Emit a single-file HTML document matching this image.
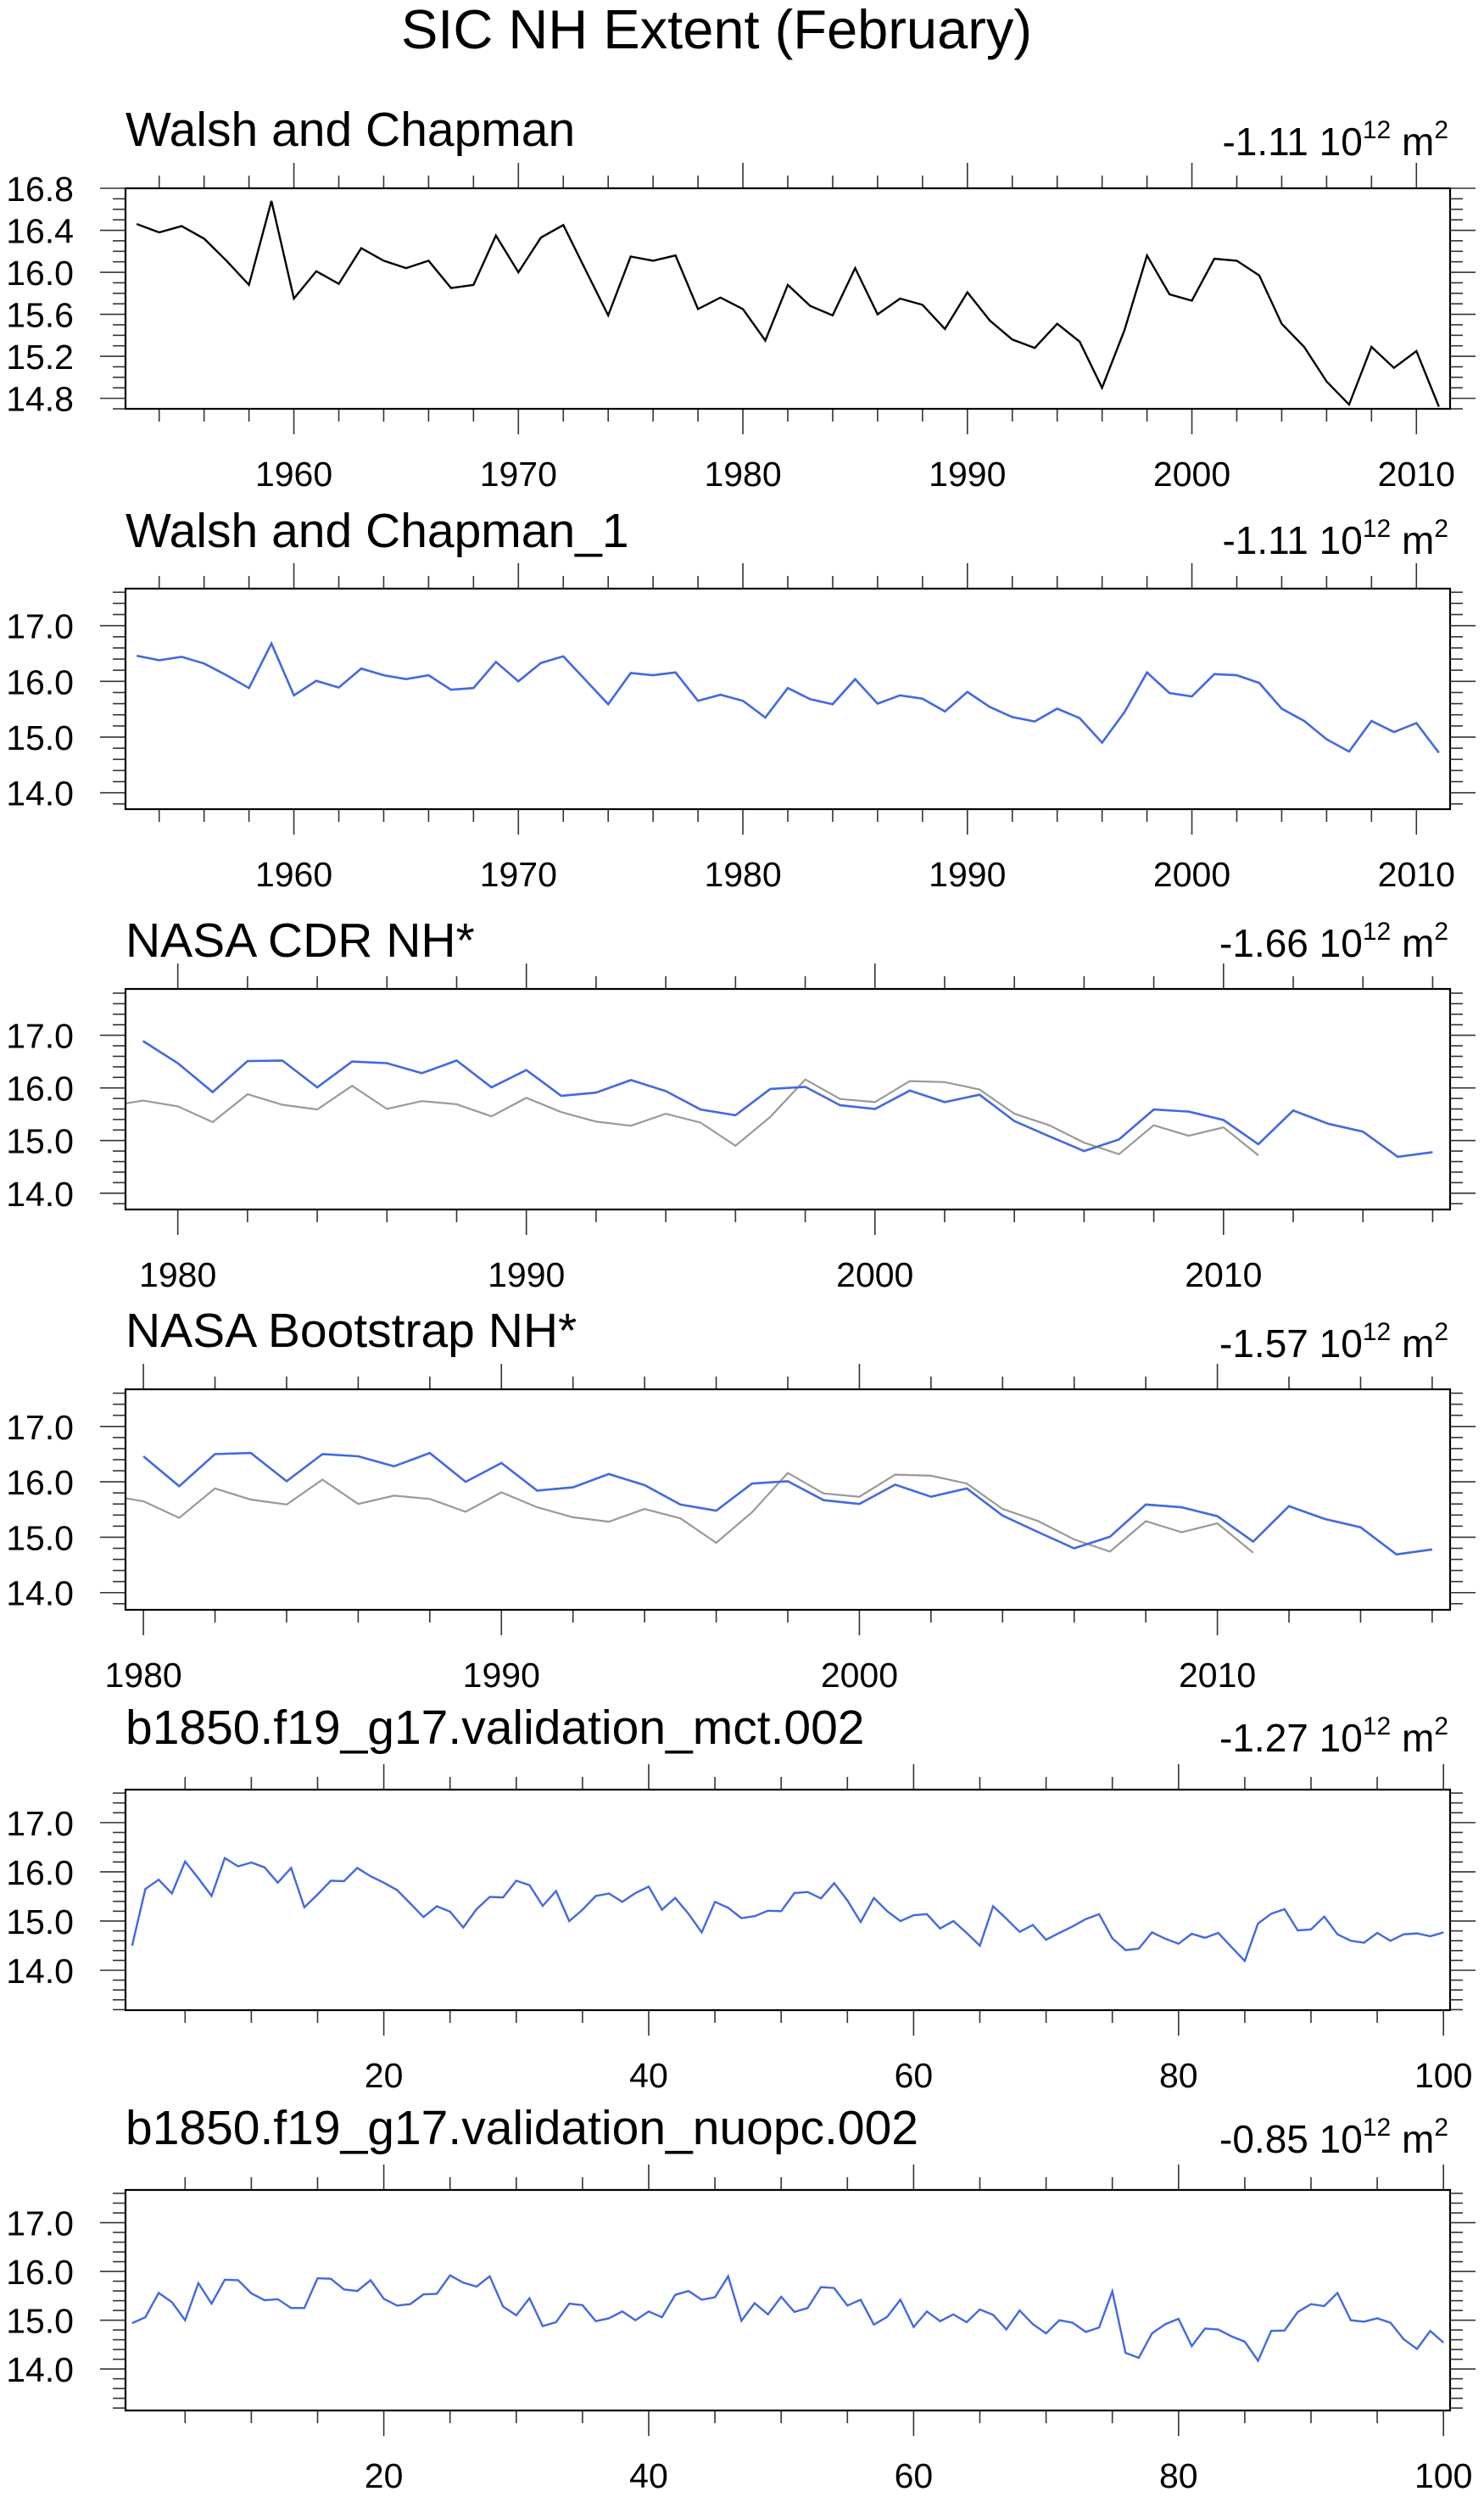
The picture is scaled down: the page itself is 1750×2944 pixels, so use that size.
<!DOCTYPE html>
<html><head><meta charset="utf-8"><style>
html,body{margin:0;padding:0;background:#fff;}
svg{display:block;font-family:"Liberation Sans",Arial,sans-serif;}
</style></head><body>
<svg id="chart" width="1750" height="2944" viewBox="0 0 1750 2944" xmlns="http://www.w3.org/2000/svg">
<text x="845" y="57" font-size="65" text-anchor="middle">SIC NH Extent (February)</text>
</svg>
<script>
const walshYears = [];
for (let y = 1953; y <= 2011; y++) walshYears.push(y);
const walshValues = [16.46,16.38,16.44,16.32,16.11,15.88,16.68,15.75,16.01,15.89,16.23,16.11,16.04,16.11,15.85,15.88,16.35,16.00,16.33,16.45,16.02,15.59,16.15,16.11,16.16,15.65,15.76,15.65,15.35,15.88,15.68,15.59,16.04,15.60,15.75,15.69,15.46,15.81,15.54,15.36,15.28,15.51,15.34,14.90,15.45,16.16,15.79,15.73,16.13,16.11,15.97,15.51,15.29,14.96,14.74,15.29,15.09,15.25,14.72];
const cdrYears = [];
for (let y = 1979; y <= 2016; y++) cdrYears.push(y);
const cdrValues = [16.89,16.47,15.92,16.51,16.52,16.01,16.50,16.47,16.28,16.52,16.01,16.34,15.85,15.91,16.15,15.94,15.59,15.48,15.98,16.02,15.67,15.60,15.95,15.73,15.87,15.37,15.08,14.80,15.02,15.59,15.55,15.39,14.93,15.57,15.32,15.17,14.69,14.78];
const bootYears = [];
for (let y = 1980; y <= 2016; y++) bootYears.push(y);
const bootValues = [16.46,15.92,16.50,16.52,16.01,16.50,16.46,16.28,16.52,16.00,16.34,15.84,15.90,16.14,15.94,15.59,15.48,15.97,16.01,15.67,15.60,15.95,15.73,15.88,15.39,15.09,14.80,15.01,15.59,15.54,15.38,14.92,15.56,15.33,15.18,14.69,14.78];
const mctValues = [14.50,15.65,15.84,15.56,16.21,15.87,15.51,16.28,16.11,16.19,16.09,15.78,16.08,15.28,15.54,15.82,15.81,16.08,15.91,15.78,15.63,15.36,15.08,15.30,15.19,14.87,15.24,15.49,15.48,15.82,15.73,15.31,15.61,15.00,15.23,15.51,15.56,15.39,15.57,15.70,15.23,15.47,15.15,14.77,15.39,15.27,15.06,15.10,15.21,15.20,15.57,15.59,15.46,15.77,15.42,14.98,15.47,15.20,15.00,15.12,15.14,14.85,15.00,14.76,14.50,15.30,15.05,14.78,14.92,14.62,14.76,14.89,15.04,15.14,14.65,14.41,14.44,14.77,14.64,14.54,14.74,14.66,14.76,14.47,14.19,14.95,15.15,15.24,14.81,14.83,15.09,14.73,14.60,14.56,14.76,14.60,14.73,14.75,14.69,14.77];
const nuopcValues = [14.94,15.06,15.56,15.37,15.00,15.76,15.34,15.83,15.82,15.55,15.41,15.43,15.25,15.25,15.86,15.85,15.63,15.60,15.82,15.44,15.30,15.33,15.53,15.54,15.92,15.77,15.69,15.90,15.28,15.10,15.45,14.88,14.96,15.34,15.31,14.98,15.04,15.18,15.00,15.18,15.06,15.52,15.60,15.42,15.47,15.90,14.99,15.35,15.12,15.48,15.17,15.25,15.68,15.66,15.30,15.42,14.91,15.07,15.42,14.86,15.18,14.98,15.12,14.96,15.22,15.11,14.81,15.20,14.92,14.73,15.00,14.95,14.76,14.85,15.59,14.33,14.23,14.73,14.92,15.03,14.47,14.83,14.81,14.67,14.56,14.17,14.78,14.79,15.17,15.33,15.29,15.56,15.00,14.97,15.04,14.95,14.61,14.41,14.78,14.54];
const runIndex = [];
for (let i = 1; i <= 100; i++) runIndex.push(i);
const yearTickLabels = [1960,1970,1980,1990,2000,2010];
const indexTickLabels = [20,40,60,80,100];
const panelTitles = ["Walsh and Chapman","Walsh and Chapman_1","NASA CDR NH*","NASA Bootstrap NH*","b1850.f19_g17.validation_mct.002","b1850.f19_g17.validation_nuopc.002"];
const trendValues = ["-1.11","-1.11","-1.66","-1.57","-1.27","-0.85"];

const NS = "http://www.w3.org/2000/svg";
const svg = document.getElementById("chart");
const L = 148, R = 1710, H = 260;

function mk(tag, attrs, parent) {
  const e = document.createElementNS(NS, tag);
  for (const k in attrs) e.setAttribute(k, attrs[k]);
  parent.appendChild(e);
  return e;
}

const panels = [
  {top:222, ymin:14.70, ymax:16.80, xmin:1952.5, xmax:2011.5, yMajor:0.4, yMinor:0.1, yStart:14.8, yDec:1, xMajor:10, xMinor:2, xLabels:yearTickLabels, tb:172, rb:183,
   series:[{x:walshYears, y:walshValues, c:"#000", w:2.4, n:"walsh-chapman-line"}]},
  {top:694, ymin:13.706, ymax:17.665, xmin:1952.5, xmax:2011.5, yMajor:1, yMinor:0.2, yStart:14, yDec:1, xMajor:10, xMinor:2, xLabels:yearTickLabels, tb:645, rb:653,
   series:[{x:walshYears, y:walshValues, c:"#4169e1", w:2.6, n:"walsh-chapman-1-line"}]},
  {top:1166, ymin:13.69, ymax:17.88, xmin:1978.5, xmax:2016.5, yMajor:1, yMinor:0.2, yStart:14, yDec:1, xMajor:10, xMinor:2, xLabels:[1980,1990,2000,2010], tb:1128, rb:1128,
   series:[{x:walshYears, y:walshValues, c:"#999", w:2.2, n:"walsh-reference-line"},{x:cdrYears, y:cdrValues, c:"#4169e1", w:2.6, n:"nasa-cdr-line"}]},
  {top:1638, ymin:13.69, ymax:17.67, xmin:1979.5, xmax:2016.5, yMajor:1, yMinor:0.2, yStart:14, yDec:1, xMajor:10, xMinor:2, xLabels:[1980,1990,2000,2010], tb:1588, rb:1600,
   series:[{x:walshYears, y:walshValues, c:"#999", w:2.2, n:"walsh-reference-line"},{x:bootYears, y:bootValues, c:"#4169e1", w:2.6, n:"nasa-bootstrap-line"}]},
  {top:2110, ymin:13.19, ymax:17.67, xmin:0.5, xmax:100.5, yMajor:1, yMinor:0.2, yStart:14, yDec:1, xMajor:20, xMinor:5, xLabels:indexTickLabels, tb:2056, rb:2065,
   series:[{x:runIndex, y:mctValues, c:"#4169e1", w:2.4, n:"mct-run-line"}]},
  {top:2582, ymin:13.15, ymax:17.67, xmin:0.5, xmax:100.5, yMajor:1, yMinor:0.2, yStart:14, yDec:1, xMajor:20, xMinor:5, xLabels:indexTickLabels, tb:2528, rb:2538,
   series:[{x:runIndex, y:nuopcValues, c:"#4169e1", w:2.4, n:"nuopc-run-line"}]}
];

panels.forEach((p, pi) => {
  const g = mk("g", {}, svg);
  
  
  const B = p.top + H;
  const sx = v => L + (v - p.xmin) / (p.xmax - p.xmin) * (R - L);
  const sy = v => B - (v - p.ymin) / (p.ymax - p.ymin) * H;

  const t = mk("text", {x:L, y:p.tb, "font-size":57}, g);
  t.textContent = panelTitles[pi];
  
  

  const rt = mk("text", {x:1708, y:p.rb, "font-size":46, "text-anchor":"end"}, g);
  
  
  const s1 = mk("tspan", {}, rt); s1.textContent = trendValues[pi] + " 10";
  const s2 = mk("tspan", {dy:-20, "font-size":30}, rt); s2.textContent = "12";
  const s3 = mk("tspan", {dy:20}, rt); s3.textContent = " m";
  const s4 = mk("tspan", {dy:-20, "font-size":30}, rt); s4.textContent = "2";

  const ticks = mk("g", {stroke:"#333", "stroke-width":1.6}, g);
  
  
  const nMin = Math.round((p.ymax - p.ymin) / p.yMinor) + 2;
  const yFirst = Math.ceil(p.ymin / p.yMinor - 1e-6) * p.yMinor;
  for (let k = 0; k < nMin; k++) {
    const v = yFirst + k * p.yMinor;
    if (v > p.ymax + 1e-6) break;
    const isMaj = Math.abs(((v - p.yStart) / p.yMajor) - Math.round((v - p.yStart) / p.yMajor)) < 1e-4;
    const len = isMaj ? 30 : 15;
    const yy = sy(v);
    mk("line", {x1:L - len, y1:yy, x2:L, y2:yy}, ticks);
    mk("line", {x1:R, y1:yy, x2:R + len, y2:yy}, ticks);
    if (isMaj) {
      const lb = mk("text", {x:87, y:yy + 15, "font-size":41, "text-anchor":"end", stroke:"none", fill:"#000"}, g);
      lb.textContent = v.toFixed(p.yDec);
      
      
    }
  }
  const xFirst = Math.ceil(p.xmin / p.xMinor) * p.xMinor;
  for (let v = xFirst; v <= p.xmax + 1e-6; v += p.xMinor) {
    const isMaj = v % p.xMajor === 0;
    const len = isMaj ? 30 : 15;
    const xx = sx(v);
    mk("line", {x1:xx, y1:B, x2:xx, y2:B + len}, ticks);
    mk("line", {x1:xx, y1:p.top - len, x2:xx, y2:p.top}, ticks);
  }
  p.xLabels.forEach(v => {
    const lb = mk("text", {x:sx(v), y:B + 91, "font-size":41, "text-anchor":"middle"}, g);
    lb.textContent = String(v);
    
    
  });

  const cid = "clip" + pi;
  const cp = mk("clipPath", {id:cid}, g);
  mk("rect", {x:L, y:p.top, width:R - L, height:H}, cp);
  const lg = mk("g", {"clip-path":"url(#" + cid + ")"}, g);
  p.series.forEach(s => {
    const pts = s.x.map((xv, i) => sx(xv).toFixed(1) + "," + sy(s.y[i]).toFixed(1)).join(" ");
    const pl = mk("polyline", {points:pts, fill:"none", stroke:s.c, "stroke-width":s.w, "stroke-linejoin":"miter"}, lg);
    
    
  });

  const fr = mk("rect", {x:L, y:p.top, width:R - L, height:H, fill:"none", stroke:"#000", "stroke-width":2.2}, g);
  
  
});
</script>
</body></html>
